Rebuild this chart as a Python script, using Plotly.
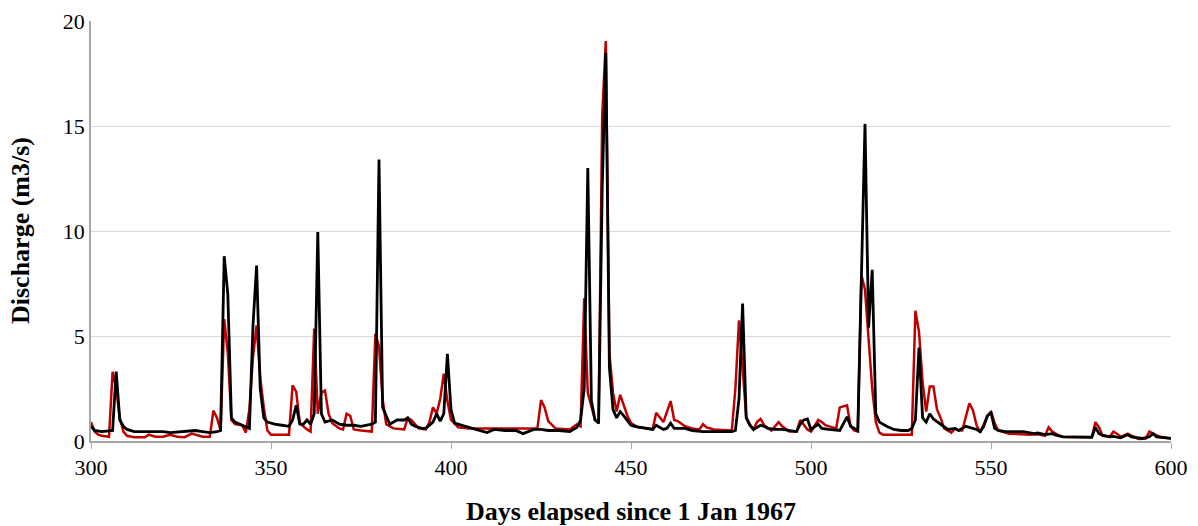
import plotly.graph_objects as go

# Observed (red) series: day, discharge
red_days = [300,301,302,303,305,306,307,308,309,310,312,315,316,318,320,322,324,326,328,330,331,333,334,335,336,337,338,339,340,342,343,344,345,346,347,348,349,350,355,356,357,358,360,361,362,363,364,365,366,367,369,370,371,372,373,375,378,379,380,381,382,384,387,388,389,391,393,394,395,396,397,398,399,400,401,402,405,424,425,426,427,429,433,435,436,437,438,439,440,441,442,443,444,445,446,447,448,449,450,452,455,456,457,458,459,461,462,463,465,467,469,470,471,473,478,479,480,481,482,483,484,485,486,487,489,491,492,494,496,497,498,499,500,502,503,504,506,507,508,510,511,512,513,514,515,516,517,518,519,520,527,528,529,530,531,532,533,534,535,536,537,539,540,541,542,544,545,546,547,549,550,551,552,555,561,563,565,566,567,569,570,578,579,580,581,583,584,585,586,588,589,591,593,594,595,597,600]
red_q = [0.9,0.45,0.3,0.25,0.2,3.3,2.5,1.1,0.45,0.25,0.18,0.18,0.3,0.2,0.2,0.3,0.2,0.18,0.35,0.25,0.2,0.2,1.45,1.1,0.5,5.8,4.2,1.0,0.8,0.75,0.4,1.5,4.0,5.5,3.0,1.6,0.5,0.3,0.3,2.65,2.35,0.85,0.55,0.45,5.35,1.3,2.3,2.4,1.3,0.85,0.6,0.55,1.3,1.2,0.55,0.5,0.45,5.1,4.5,2.0,0.8,0.6,0.55,1.1,1.0,0.6,0.55,0.9,1.6,1.3,2.0,3.2,1.9,1.0,0.8,0.65,0.6,0.6,1.95,1.6,0.95,0.6,0.55,0.8,0.7,6.8,2.3,1.7,1.0,0.9,15.5,19.05,4.2,2.3,1.4,2.2,1.7,1.2,0.85,0.65,0.6,0.55,1.35,1.1,0.9,1.9,1.0,0.95,0.7,0.6,0.55,0.8,0.65,0.55,0.5,2.5,5.75,3.5,1.15,0.8,0.55,0.9,1.05,0.75,0.5,0.9,0.7,0.45,0.45,1.0,0.75,0.55,0.45,1.0,0.9,0.75,0.65,0.6,1.6,1.7,0.7,0.5,0.45,7.9,7.2,5.0,2.5,0.9,0.4,0.3,0.3,0.3,6.2,5.2,2.8,1.4,2.6,2.6,1.5,1.1,0.6,0.4,0.6,0.5,0.5,1.8,1.45,0.75,0.4,1.2,1.4,0.85,0.5,0.35,0.3,0.32,0.25,0.65,0.45,0.25,0.2,0.18,0.9,0.65,0.25,0.2,0.45,0.35,0.2,0.35,0.25,0.1,0.12,0.45,0.35,0.2,0.12]

# Simulated (black) series: day, discharge
black_days = [300,301,303,306,307,308,309,310,312,320,322,325,327,329,331,333,335,336,337,338,339,340,342,344,345,346,347,348,349,351,353,355,356,357,358,359,360,361,362,363,364,365,367,369,371,373,375,378,379,380,381,382,383,385,387,388,389,390,392,393,395,396,397,398,399,400,401,404,407,410,412,415,418,420,423,425,427,430,433,435,436,437,438,439,440,441,442,443,444,445,446,447,448,449,450,451,455,456,457,459,460,461,462,465,467,470,475,478,479,480,481,482,483,484,486,487,488,490,492,494,496,497,498,499,500,502,503,505,508,510,511,513,514,515,516,517,518,519,521,523,525,527,528,529,530,531,532,533,534,536,538,540,541,543,544,546,547,548,549,550,551,552,554,559,562,563,565,567,568,570,578,579,580,581,583,584,586,588,589,592,594,595,596,600]
black_q = [0.7,0.5,0.45,0.5,3.3,1.0,0.7,0.55,0.45,0.45,0.4,0.45,0.45,0.5,0.45,0.4,0.45,0.5,8.8,7.0,1.1,0.9,0.75,0.6,5.5,8.35,2.5,1.1,0.9,0.8,0.75,0.7,1.0,1.7,0.8,0.8,1.0,0.8,1.3,9.95,1.3,0.9,1.0,0.8,0.75,0.75,0.7,0.8,0.9,13.4,1.6,1.2,0.8,1.0,1.0,1.1,0.8,0.7,0.6,0.6,0.9,1.3,0.95,1.3,4.15,1.5,0.85,0.7,0.55,0.4,0.55,0.5,0.5,0.35,0.55,0.55,0.5,0.5,0.45,0.65,1.0,2.5,13.0,1.9,1.0,0.85,12.0,18.5,3.5,1.5,1.1,1.4,1.2,1.0,0.75,0.7,0.6,0.55,0.75,0.55,0.6,0.85,0.6,0.6,0.5,0.45,0.45,0.45,0.5,2.0,6.55,1.1,0.75,0.55,0.75,0.7,0.6,0.55,0.55,0.5,0.45,0.8,1.0,1.05,0.55,0.8,0.6,0.55,0.5,1.15,0.7,0.5,7.5,15.1,5.4,8.15,1.3,0.9,0.7,0.55,0.5,0.5,0.6,1.0,4.45,1.1,0.9,1.3,1.05,0.8,0.55,0.6,0.5,0.7,0.65,0.55,0.45,0.7,1.2,1.35,0.6,0.5,0.45,0.45,0.35,0.38,0.3,0.35,0.28,0.2,0.18,0.65,0.35,0.28,0.2,0.22,0.15,0.3,0.2,0.12,0.2,0.35,0.2,0.12]

x_ticks = [300, 350, 400, 450, 500, 550, 600]
y_ticks = [0, 5, 10, 15, 20]
x_title = "Days elapsed since 1 Jan 1967"
y_title = "Discharge (m3/s)"

font_family = "Liberation Serif, Times New Roman, serif"

fig = go.Figure()
fig.add_trace(go.Scatter(x=red_days, y=red_q, mode="lines",
                         line=dict(color="#c00000", width=2.5), showlegend=False))
fig.add_trace(go.Scatter(x=black_days, y=black_q, mode="lines",
                         line=dict(color="#000000", width=2.8), showlegend=False))

fig.update_layout(
    width=1198, height=526,
    margin=dict(l=91, r=27, t=21, b=85, autoexpand=False),
    plot_bgcolor="white", paper_bgcolor="white",
    font=dict(family=font_family, size=22, color="black"),
    xaxis=dict(range=[300, 600], tickvals=x_ticks, showgrid=False,
               showline=True, linecolor="#a6a6a6", linewidth=1.5,
               ticks="outside", ticklen=6, tickcolor="#a6a6a6",
               zeroline=False, automargin=False),
    yaxis=dict(range=[0, 20], tickvals=y_ticks, showgrid=True,
               gridcolor="#d9d9d9", gridwidth=1,
               showline=True, linecolor="#a6a6a6", linewidth=1.5,
               ticks="", zeroline=False, automargin=False),
    annotations=[
        dict(text="<b>" + x_title + "</b>", xref="paper", yref="paper",
             x=0.5, y=0, xanchor="center", yanchor="middle", yshift=-70,
             showarrow=False, font=dict(size=26)),
        dict(text="<b>" + y_title + "</b>", xref="paper", yref="paper",
             x=0, y=0.5, xanchor="center", yanchor="middle", xshift=-71,
             textangle=-90, showarrow=False, font=dict(size=26)),
    ],
)

fig.write_html("out.html")
